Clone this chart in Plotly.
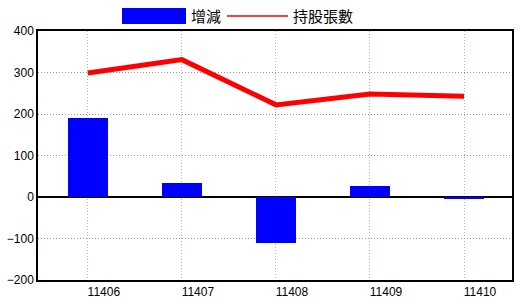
import plotly.graph_objects as go

categories = ["11406", "11407", "11408", "11409", "11410"]
change_values = [191, 34, -110, 27, -4]
holding_values = [299, 331, 222, 248, 243]
y_ticks = [-200, -100, 0, 100, 200, 300, 400]

fig = go.Figure()
fig.add_trace(go.Bar(x=categories, y=change_values, name="增減",
                     marker=dict(color="#0000FF", line=dict(width=0)),
                     width=0.425, showlegend=False))
fig.add_trace(go.Scatter(x=categories, y=holding_values, name="持股張數",
                         mode="lines", line=dict(color="#FF0000", width=5),
                         showlegend=False))

font_family = "Liberation Sans, Arial, sans-serif"

fig.update_layout(
    width=520, height=300,
    margin=dict(l=38, r=8, t=31, b=20),
    paper_bgcolor="white", plot_bgcolor="white",
    font=dict(family=font_family, size=12, color="black"),
    xaxis=dict(type="category", range=[-0.53, 4.51], automargin=False,
               showgrid=True, gridcolor="#a0bccc", griddash="1px,2px", gridwidth=1,
               showline=True, linecolor="black", linewidth=1.5, mirror=True,
               ticks="", ticklabelshift=16, tickfont=dict(size=12),
               zeroline=False),
    yaxis=dict(range=[-200, 400], tickvals=y_ticks, automargin=False,
               showgrid=True, gridcolor="#999999", griddash="1px,2px", gridwidth=1,
               showline=True, linecolor="black", linewidth=1.5, mirror=True,
               zeroline=True, zerolinecolor="black", zerolinewidth=1.5,
               ticks="", tickfont=dict(size=12)),
    bargap=0,
)

# custom legend
fig.add_shape(type="rect", xref="paper", yref="paper",
              x0=(122 - 38) / 474, x1=(186 - 38) / 474,
              y0=(280 - 24) / 249, y1=(280 - 8) / 249,
              fillcolor="#0000FF", line=dict(width=0))
fig.add_annotation(xref="paper", yref="paper", x=(189 - 38) / 474, y=(280 - 16) / 249,
                   text="增減", showarrow=False, xanchor="left", yanchor="middle",
                   font=dict(family="Noto Sans CJK TC", size=15, color="black"))
fig.add_shape(type="line", xref="paper", yref="paper",
              x0=(227 - 38) / 474, x1=(288 - 38) / 474,
              y0=(280 - 16) / 249, y1=(280 - 16) / 249,
              line=dict(color="#FF0000", width=1.5))
fig.add_annotation(xref="paper", yref="paper", x=(291 - 38) / 474, y=(280 - 16) / 249,
                   text="持股張數", showarrow=False, xanchor="left", yanchor="middle",
                   font=dict(family="Noto Sans CJK TC", size=15, color="black"))

fig.write_html("out.html")
